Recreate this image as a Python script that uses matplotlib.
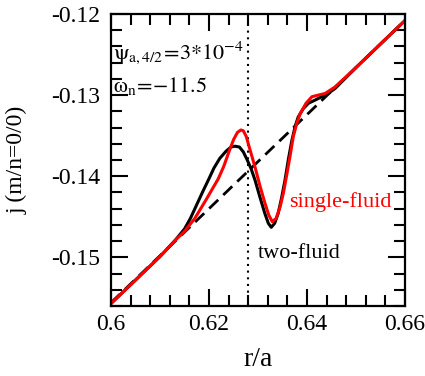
import numpy as np
import matplotlib
matplotlib.use("Agg")
import matplotlib.pyplot as plt
from matplotlib.ticker import MultipleLocator

plt.rcParams["font.family"] = "Liberation Serif"
plt.rcParams["mathtext.fontset"] = "custom"
plt.rcParams["mathtext.rm"] = "Liberation Serif"
plt.rcParams["mathtext.it"] = "Liberation Serif:italic"
plt.rcParams["axes.unicode_minus"] = False

# two-fluid curve
r_two = [0.6000, 0.6050, 0.6100, 0.6131, 0.6150, 0.6162, 0.6175, 0.6188, 0.6200,
         0.6210, 0.6222, 0.6235, 0.6245, 0.6253, 0.6262, 0.6270, 0.6278, 0.6286,
         0.6294, 0.6304, 0.6314, 0.6321, 0.6327, 0.6334, 0.6341, 0.6348, 0.6355,
         0.6362, 0.6369, 0.6376, 0.6382, 0.6392, 0.6403, 0.6417, 0.6430, 0.6445,
         0.6457, 0.6500, 0.6550, 0.6600]
j_two = [-0.1557, -0.1528, -0.1499, -0.1479, -0.1465, -0.1452, -0.1435, -0.1418, -0.1403,
         -0.1390, -0.1378, -0.1369, -0.1364, -0.1363, -0.1364, -0.1370, -0.1380, -0.1391,
         -0.1405, -0.1426, -0.1446, -0.1458, -0.1463, -0.1458, -0.1446, -0.1427, -0.1405,
         -0.1379, -0.1356, -0.1338, -0.1327, -0.1317, -0.1310, -0.1306, -0.1302, -0.1297,
         -0.1292, -0.1266, -0.1237, -0.1208]

# single-fluid curve
r_one = [0.6000, 0.6050, 0.6100, 0.6131, 0.6150, 0.6171, 0.6195, 0.6219, 0.6230,
         0.6240, 0.6250, 0.6258, 0.6265, 0.6270, 0.6276, 0.6283, 0.6294, 0.6304,
         0.6314, 0.6322, 0.6329, 0.6337, 0.6345, 0.6352, 0.6359, 0.6366, 0.6372,
         0.6379, 0.6386, 0.6398, 0.6410, 0.6423, 0.6437, 0.6447, 0.6457, 0.6500,
         0.6550, 0.6600]
j_one = [-0.1557, -0.1528, -0.1499, -0.1479, -0.1468, -0.1452, -0.1428, -0.1403, -0.1388,
         -0.1371, -0.1355, -0.1346, -0.1343, -0.1344, -0.1351, -0.1366, -0.1389, -0.1412,
         -0.1433, -0.1448, -0.1456, -0.1452, -0.1438, -0.1420, -0.1397, -0.1373, -0.1351,
         -0.1335, -0.1323, -0.1310, -0.1302, -0.1300, -0.1298, -0.1294, -0.1290, -0.1266,
         -0.1237, -0.1208]

# equilibrium (dashed)
r_eq = [0.6, 0.66]
j_eq = [-0.1556, -0.1208]

r_res = 0.628

fig = plt.figure(figsize=(4.25, 3.76), dpi=100)
ax = fig.add_axes([0.2612, 0.1862, 0.6918, 0.7766])

ax.plot(r_eq, j_eq, color="black", lw=2.0, dashes=(4.5, 2.5))
ax.axvline(r_res, color="black", lw=1.5, ls=(0, (1, 2.2)))
ax.plot(r_two, j_two, color="black", lw=2.2)
ax.plot(r_one, j_one, color="red", lw=2.2)

ax.set_xlim(0.6, 0.66)
ax.set_ylim(-0.156, -0.12)
ax.xaxis.set_minor_locator(MultipleLocator(0.004))
ax.yaxis.set_minor_locator(MultipleLocator(0.002))
ax.set_xticks([0.6, 0.62, 0.64, 0.66])
ax.set_xticklabels(["0.6", "0.62", "0.64", "0.66"])
ax.set_yticks([-0.15, -0.14, -0.13, -0.12])
ax.set_yticklabels(["-0.15", "-0.14", "-0.13", "-0.12"])

ax.tick_params(which="both", direction="in", top=True, right=True, width=1.5,
               labelsize=17, color="black")
ax.tick_params(which="major", length=12)
ax.tick_params(which="minor", length=8)
ax.tick_params(axis="y", pad=8)
ax.tick_params(axis="x", pad=6)
for s in ax.spines.values():
    s.set_linewidth(1.6)

ax.set_xlabel("r/a", fontsize=20)
ax.set_ylabel("j (m/n=0/0)", fontsize=17)
ax.xaxis.set_label_coords(0.5, -0.14)
ax.yaxis.set_label_coords(-0.285, 0.5)

ax.text(0.007, 0.846, r"$\mathrm{\psi_{a,4/2}\!=\!3{*}10^{-4}}$", transform=ax.transAxes,
        fontsize=16, va="baseline", ha="left", math_fontfamily="stix")
ax.text(0.007, 0.733, r"$\mathrm{\omega_{n}\!=\!{-}11.5}$", transform=ax.transAxes,
        fontsize=16, va="baseline", ha="left", math_fontfamily="stix")
ax.text(0.6363, -0.1438, "single-fluid", color="red", fontsize=16, va="baseline")
ax.text(0.6300, -0.1501, "two-fluid", color="black", fontsize=16, va="baseline")

fig.savefig("out.png", dpi=100)
